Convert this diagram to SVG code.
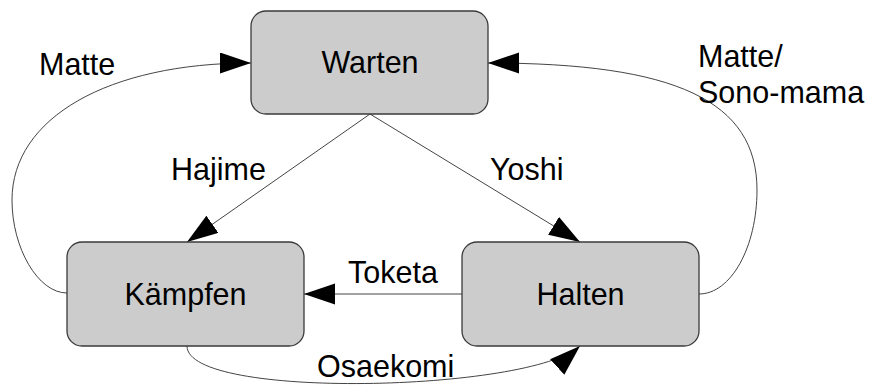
<svg xmlns="http://www.w3.org/2000/svg" width="869" height="385" viewBox="0 0 869 385">
  <style>
    .node rect { fill: #cccccc; stroke: #3a3a3a; stroke-width: 1.3; }
    text { font-family: "Liberation Sans", Arial, sans-serif; font-size: 30.5px; fill: #000; }
    .nt { text-anchor: middle; }
    .edge { fill: none; stroke: #444; stroke-width: 1; marker-end: url(#arr); }
  </style>
  <defs>
    <marker id="arr" markerUnits="userSpaceOnUse" markerWidth="32" markerHeight="22" refX="31" refY="10.5" orient="auto">
      <path d="M0,0 L31,10.5 L0,21 Z" fill="#000"/>
    </marker>
  </defs>
  <rect width="869" height="385" fill="#fff"/>

  <g id="connectors">
    <path class="edge" d="M370,114 L187,242"/>
    <path class="edge" d="M370,114 L580,242"/>
    <path class="edge" d="M462,294 L304,294"/>
    <path class="edge" d="M67,293 C38,293 12,248 12,200 C12,118 108,63 251,63"/>
    <path class="edge" d="M699,294 C731,294 757,247 757,190 C757,101 676,63 488,63"/>
    <path class="edge" d="M187,346 C187,400 530,392 580,346"/>
  </g>

  <g id="warten" class="node">
    <rect x="251" y="11" width="237" height="103" rx="15"/>
    <text class="nt" x="370" y="73">Warten</text>
  </g>
  <g id="kaempfen" class="node">
    <rect x="67" y="242" width="237" height="104" rx="15"/>
    <text class="nt" x="185.5" y="305">Kämpfen</text>
  </g>
  <g id="halten" class="node">
    <rect x="462" y="242" width="237" height="104" rx="15"/>
    <text class="nt" x="580.5" y="305">Halten</text>
  </g>

  <g id="labels">
    <text x="39" y="75">Matte</text>
    <text x="171" y="180">Hajime</text>
    <text x="490" y="180">Yoshi</text>
    <text x="698" y="67">Matte/</text>
    <text x="698" y="103">Sono-mama</text>
    <text x="348" y="283">Toketa</text>
    <text x="317" y="377">Osaekomi</text>
  </g>
</svg>
